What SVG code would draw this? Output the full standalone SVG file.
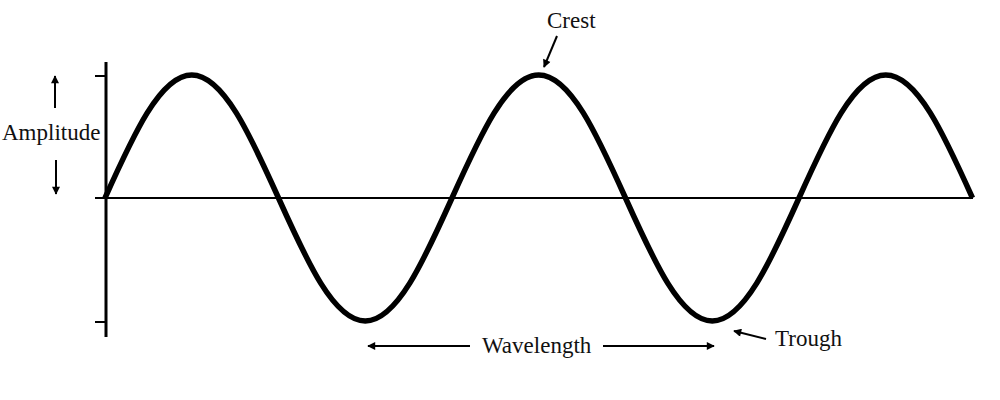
<svg xmlns="http://www.w3.org/2000/svg" width="1000" height="400" viewBox="0 0 1000 400">
<style>
text{font-family:"Liberation Serif","Times New Roman",serif;font-size:23px;fill:#111}
.ax{stroke:#000;fill:none}
.arr{stroke:#000;stroke-width:2;fill:none;marker-end:url(#ah)}
.wave{stroke:#000;stroke-width:5.5;fill:none;stroke-linejoin:round}
</style>
<defs>
<marker id="ah" viewBox="0 0 10 10" refX="9" refY="5" markerWidth="5" markerHeight="4" orient="auto" markerUnits="strokeWidth">
<path d="M0,0 L10,5 L0,10 Z" fill="#000"/>
</marker>
</defs>
<rect width="1000" height="400" fill="#fff"/>
<g id="axes">
<line class="ax" x1="106" y1="62" x2="106" y2="337" stroke-width="3"/>
<line class="ax" x1="105" y1="198" x2="973" y2="198" stroke-width="2"/>
<line class="ax" x1="95" y1="76" x2="106" y2="76" stroke-width="2"/>
<line class="ax" x1="95" y1="198" x2="106" y2="198" stroke-width="2"/>
<line class="ax" x1="95" y1="322" x2="106" y2="322" stroke-width="2"/>
</g>
<g id="wave">
<path class="wave" d="M105,198 c28.29,-63.01 55.35,-123 86.75,-123 c31.4,0 58.46,59.99 86.75,123 c28.29,63.01 55.35,123 86.75,123 c31.4,0 58.46,-59.99 86.75,-123 c28.29,-63.01 55.35,-123 86.75,-123 c31.4,0 58.46,59.99 86.75,123 c28.29,63.01 55.35,123 86.75,123 c31.4,0 58.46,-59.99 86.75,-123 c28.29,-63.01 55.35,-123 86.75,-123 c31.4,0 58.46,59.99 86.75,123"/>
</g>
<g id="amplitude">
<text x="2" y="140">Amplitude</text>
</g>
<g id="crest">
<text x="547" y="28">Crest</text>
</g>
<g id="trough">
<text x="775" y="346">Trough</text>
</g>
<g id="wavelength">
<text x="482" y="353">Wavelength</text>
</g>
<g id="connectors">
<line class="arr" x1="55" y1="108" x2="55" y2="76"/>
<line class="arr" x1="56" y1="160" x2="56" y2="194"/>
<line class="arr" x1="557" y1="36" x2="544" y2="67"/>
<line class="arr" x1="766" y1="339" x2="734" y2="331"/>
<line class="arr" x1="470" y1="346" x2="368" y2="346"/>
<line class="arr" x1="603" y1="346" x2="714" y2="346"/>
</g>
</svg>
